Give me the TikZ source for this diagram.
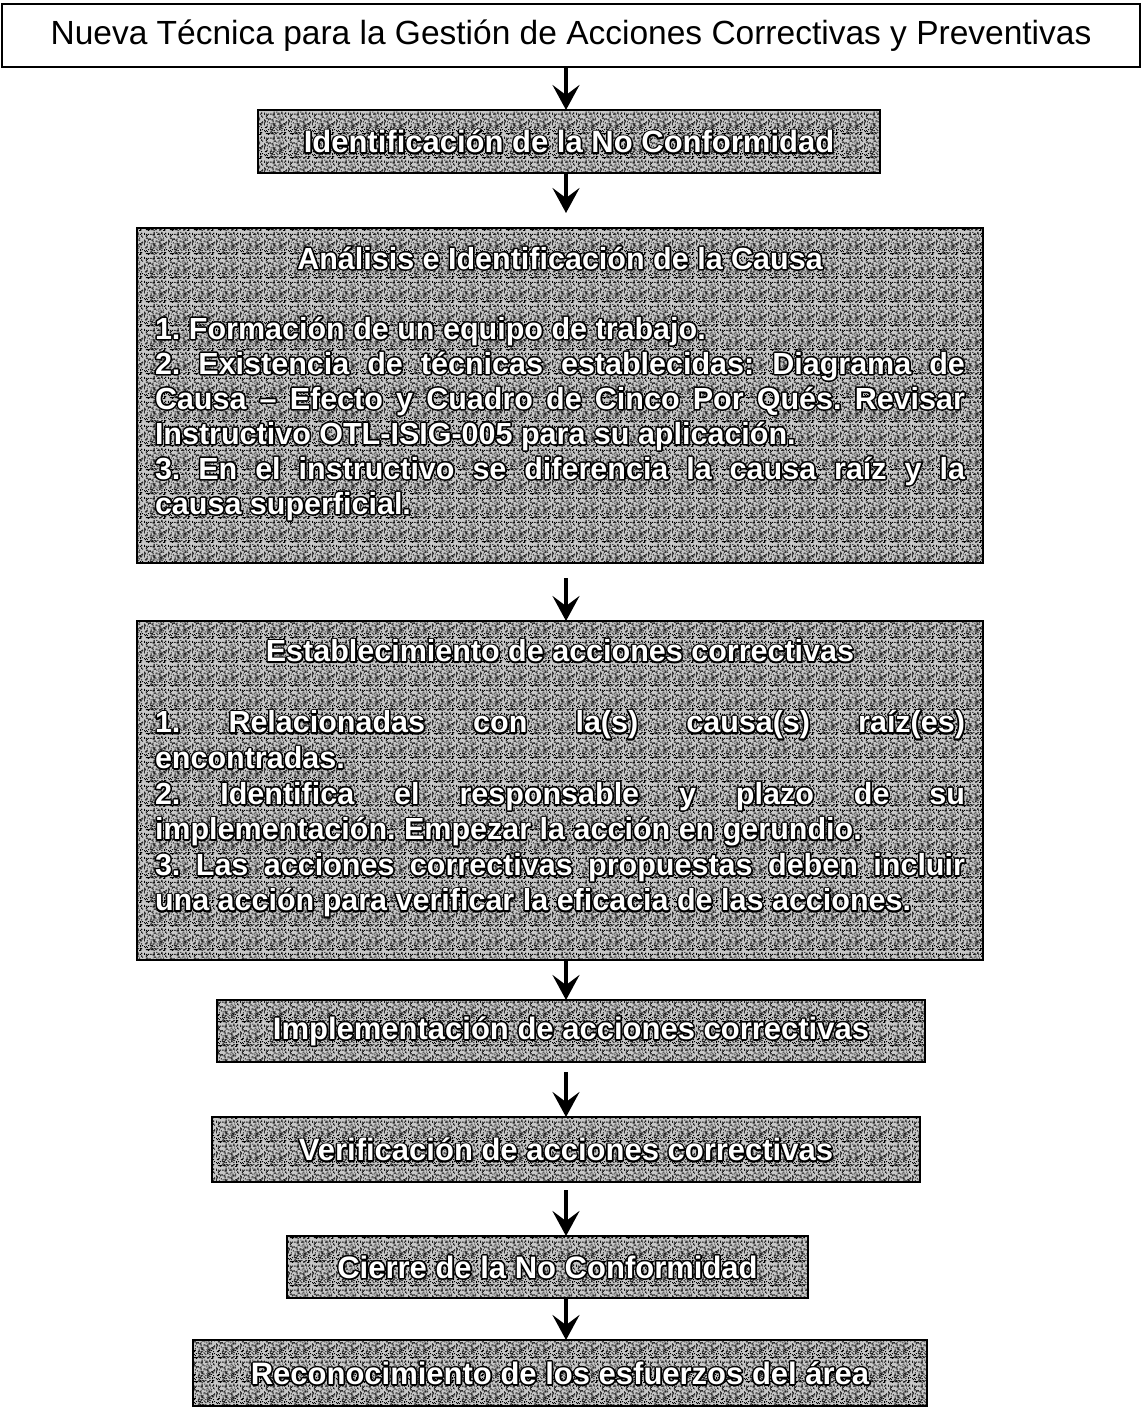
\documentclass[tikz,border=0pt]{standalone}
\usepackage{fontspec}
\setmainfont{Liberation Sans}
\usetikzlibrary{arrows.meta,patterns}

\definecolor{boxbase}{gray}{0.78}

% speckled grain used inside the grey step boxes
\pgfdeclarepatternformonly{grain}{\pgfpointorigin}{\pgfqpoint{24pt}{24pt}}{\pgfqpoint{24pt}{24pt}}{%
  \pgfmathsetseed{42}%
  \foreach \k in {1,...,190}{%
    \pgfmathsetmacro\px{int(random(0,23))}%
    \pgfmathsetmacro\py{int(random(0,23))}%
    \pgfpathrectangle{\pgfqpoint{\px pt}{\py pt}}{\pgfqpoint{1pt}{1pt}}%
    \pgfusepath{fill}%
  }%
}

% black rim: the letters drawn as thick strokes only
\newcommand\rimon{\special{pdf:literal direct 0 0 0 RG 1 j 3.2 w 1 Tr}}
\newcommand\rimoff{\special{pdf:literal direct 0 Tr}}

% a grey step box: rimmed letters in the box, white letters laid on top
\newcommand\stepnode[3]{%
  \node[stepbox,#2] (#1) {\rimon#3\rimoff};
  \node[steplabel,#2,text=white] at (#1.center) {#3};
}

% lines of the justified step descriptions
\newcommand\justln[1]{\makebox[\linewidth][s]{#1}\par}
\newcommand\lastln[1]{#1\par}
\newcommand\centln[1]{\makebox[\linewidth][c]{#1}\par}

\newcommand\causatext{\parbox[c][335pt][t]{810pt}{\setlength\parindent{0pt}%
  \frenchspacing\fontsize{30.5}{35}\selectfont\bfseries
  \vspace*{6pt}\mbox{}\par
  \centln{Análisis e Identificación de la Causa}
  \mbox{}\par
  \lastln{1. Formación de un equipo de trabajo.}
  \justln{2. Existencia de técnicas establecidas: Diagrama de}
  \justln{Causa – Efecto y Cuadro de Cinco Por Qués. Revisar}
  \lastln{Instructivo OTL-ISIG-005 para su aplicación.}
  \justln{3. En el instructivo se diferencia la causa raíz y la}
  \lastln{causa superficial.}}}

\newcommand\acciontext{\parbox[c][339pt][t]{810pt}{\setlength\parindent{0pt}%
  \frenchspacing\fontsize{30.5}{35.6}\selectfont\bfseries
  \vspace*{5pt}\mbox{}\par
  \centln{Establecimiento de acciones correctivas}
  \mbox{}\par
  \justln{1. Relacionadas con la(s) causa(s) raíz(es)}
  \lastln{encontradas.}
  \justln{2. Identifica el responsable y plazo de su}
  \lastln{implementación. Empezar la acción en gerundio.}
  \justln{3. Las acciones correctivas propuestas deben incluir}
  \lastln{una acción para verificar la eficacia de las acciones.}}}

\begin{document}
\begin{tikzpicture}[x=1pt,y=-1pt,
  steplabel/.style={inner sep=0pt, outer sep=0pt, align=center},
  stepbox/.style={steplabel, text=black, draw=black, line width=2.6pt,
    preaction={fill=boxbase}, pattern=grain, pattern color=black},
  headfont/.style={font=\bfseries\fontsize{31}{35}\selectfont},
  flow/.style={line width=3.4pt, -{Stealth[length=25pt,width=27pt,inset=10pt]}},
]
\useasboundingbox (0,0) rectangle (1142,1407);
\fill[white] (0,0) rectangle (1142,1407);

\node[draw=black, line width=2pt, minimum width=1138, minimum height=63,
  inner sep=0pt, font=\fontsize{33.5}{40}\selectfont] (title) at (571,36)
  {Nueva Técnica para la Gestión de Acciones Correctivas y Preventivas};

\stepnode{ident}{minimum width=622, minimum height=63, headfont, at={(569,141.5)}}
  {Identificación de la No Conformidad}
\stepnode{causa}{minimum width=846, minimum height=335, at={(560,395.5)}}
  {\causatext}
\stepnode{accion}{minimum width=846, minimum height=339, at={(560,790.5)}}
  {\acciontext}
\stepnode{impl}{minimum width=708, minimum height=62, headfont, at={(571,1031)}}
  {Implementación de acciones correctivas}
\stepnode{verif}{minimum width=708, minimum height=65, headfont, at={(566,1149.5)}}
  {Verificación de acciones correctivas}
\stepnode{cierre}{minimum width=521, minimum height=62, headfont, at={(547.5,1267)}}
  {Cierre de la No Conformidad}
\stepnode{recon}{minimum width=734, minimum height=66, headfont, at={(560,1373)}}
  {Reconocimiento de los esfuerzos del área}

% all arrows run down one common vertical
\coordinate (spine) at (566,0);
\draw[flow] (title.south -| spine) -- (ident.north -| spine);
\draw[flow, shorten >=15pt] (ident.south -| spine) -- (causa.north -| spine);
\draw[flow, shorten <=15pt] (causa.south -| spine) -- (accion.north -| spine);
\draw[flow] (accion.south -| spine) -- (impl.north -| spine);
\draw[flow, shorten <=10pt] (impl.south -| spine) -- (verif.north -| spine);
\draw[flow, shorten <=8pt] (verif.south -| spine) -- (cierre.north -| spine);
\draw[flow] (cierre.south -| spine) -- (recon.north -| spine);
\end{tikzpicture}
\end{document}
